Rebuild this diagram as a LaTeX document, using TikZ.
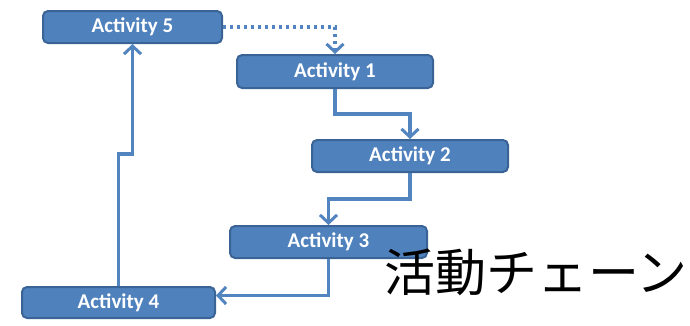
\documentclass[tikz,border=0pt]{standalone}
\usepackage{fontspec}
\setmainfont{Carlito}
\newfontfamily\cjk{Noto Sans CJK JP}
\usetikzlibrary{arrows.meta,calc}
\definecolor{boxfill}{HTML}{4F81BD}
\definecolor{boxline}{HTML}{3A6496}
\definecolor{conncol}{HTML}{5284C0}
\tikzset{
  actbox/.style={draw=boxline, line width=2pt, fill=boxfill, rounded corners=5pt,
    inner sep=0pt, text=white, font=\fontsize{21}{21}\selectfont\bfseries},
  conn/.style={draw=conncol, line width=3.6pt, -{Straight Barb[length=8pt,width=17pt,line width=3pt]}},
  dotline/.style={dash pattern=on 3pt off 4pt},
}
\begin{document}
\begin{tikzpicture}[x=1pt,y=-1pt]
\useasboundingbox (0,0) rectangle (690,325);
\node[actbox, minimum width=179pt, minimum height=32pt] (a5) at (132.5,27) {Activity 5};
\node[actbox, minimum width=196pt, minimum height=33pt] (a1) at (335,71.5) {Activity 1};
\node[actbox, minimum width=196pt, minimum height=32pt] (a2) at (410,156) {Activity 2};
\node[actbox, minimum width=197pt, minimum height=32pt] (a3) at (328.5,242) {Activity 3};
\node[actbox, minimum width=193pt, minimum height=31pt] (a4) at (118.5,302.5) {Activity 4};
\node[font=\cjk\fontsize{51}{51}\selectfont, inner sep=0pt] (t) at (536,272.5) {活動チェーン};
\coordinate (a4in) at ($(a4.east)+(0,-7)$);
\draw[conn, dotline] (a5.east) -| (a1.north);
\draw[conn] (a1.south) -- ++(0,25) -| (a2.north);
\draw[conn] (a2.south) -- ++(0,26) -| (a3.north);
\draw[conn] (a3.south) |- (a4in);
\draw[conn] (a4.north) -- ++(0,-132) -- ++(14,0) -- (a5.south);
\end{tikzpicture}
\end{document}
